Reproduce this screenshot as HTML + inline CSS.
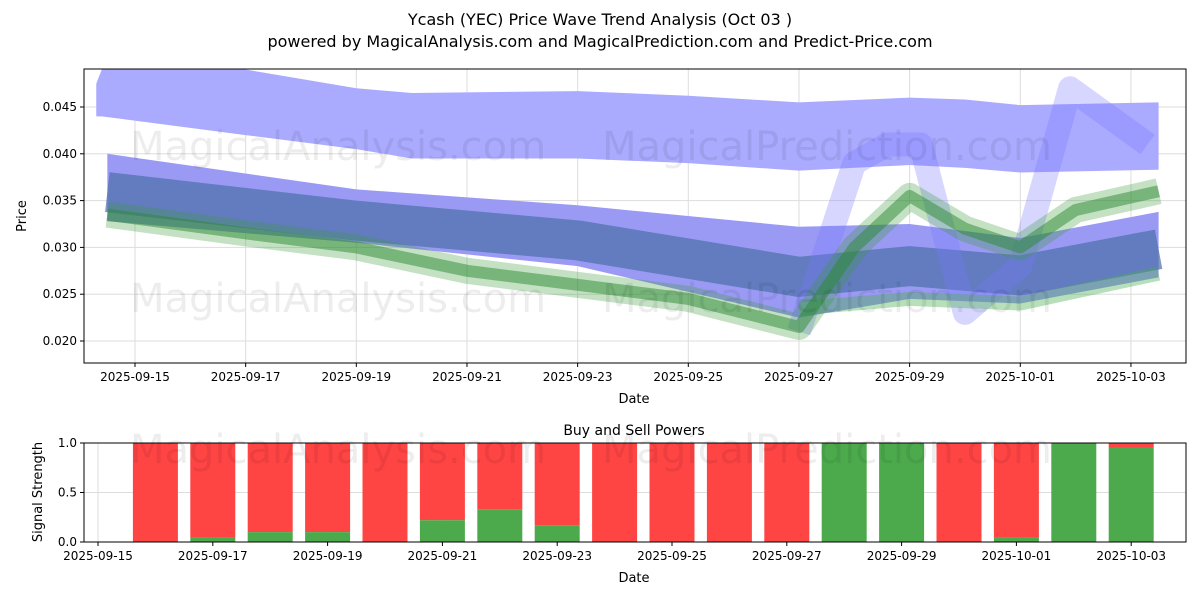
<!DOCTYPE html>
<html><head><meta charset="utf-8"><style>
body{margin:0;background:#fff;font-family:"Liberation Sans","DejaVu Sans",sans-serif}
svg text{font-family:"DejaVu Sans","Liberation Sans",sans-serif}
</style></head><body>
<svg id="c" width="1200" height="600" xmlns="http://www.w3.org/2000/svg">
<rect width="1200" height="600" fill="#fff"/>
<text x="600" y="25" font-size="16" text-anchor="middle">Ycash (YEC) Price Wave Trend Analysis (Oct 03 )</text>
<text x="600" y="47" font-size="16" text-anchor="middle">powered by MagicalAnalysis.com and MagicalPrediction.com and Predict-Price.com</text>
<g id="topg"></g><g id="botg"></g>
</svg>
<script>
// day offsets from 2025-09-15
const topTickDays=[0,2,4,6,8,10,12,14,16,18];
const topTickLabels=["2025-09-15","2025-09-17","2025-09-19","2025-09-21","2025-09-23","2025-09-25","2025-09-27","2025-09-29","2025-10-01","2025-10-03"];
const priceTicks=[0.020,0.025,0.030,0.035,0.040,0.045];
const bandDays=[-0.7,-0.6,2,4,5,8,10,12,14,15,16,18.5];
const bandUpper=[0.0475,0.049,0.049,0.047,0.0465,0.0467,0.0462,0.0455,0.046,0.0458,0.0452,0.0455];
const bandLower=[0.044,0.044,0.042,0.0405,0.0395,0.0395,0.039,0.0382,0.0388,0.0385,0.038,0.0383];
const midDays=[-0.5,4,8,12,14,16,18.5];
const midUpper=[0.040,0.0362,0.0345,0.0322,0.0325,0.031,0.0338];
const midLower=[0.0328,0.0305,0.028,0.0225,0.0245,0.024,0.0268];
const greenDays=[-0.5,2,4,6,8,10,12,13,14,15,16,17,18.5];
const greenCenter=[0.0335,0.0315,0.030,0.0275,0.026,0.0245,0.0215,0.030,0.0355,0.032,0.030,0.034,0.036];
const greenLowDays=[12,14,16,18.5];
const greenLow=[0.0235,0.0245,0.024,0.0272];
const spikeDays=[12,13,13.6,14.2,15,16,16.9,18.3];
const spikeVals=[0.021,0.039,0.041,0.041,0.023,0.028,0.047,0.041];
const barDays=[1,2,3,4,5,6,7,8,9,10,11,12,13,14,15,16,17,18];
const buyVals=[0,0.05,0.1,0.1,0,0.22,0.33,0.17,0,0,0,0,1,1,0,0.05,1,0.95];
const botTickDays=[0,2,4,6,8,10,12,14,16,18];
const strengthTicks=[0,0.5,1];

const NS="http://www.w3.org/2000/svg";
function mk(p,t,a){const e=document.createElementNS(NS,t);for(const k in a)e.setAttribute(k,a[k]);p.appendChild(e);return e;}
const topG=document.getElementById('topg'),botG=document.getElementById('botg');
const L=84,R=1186,T=69,B=363;
const xT=d=>135+d*55.33, yT=v=>341-(v-0.020)/0.005*46.8;
const cp=mk(topG,'clipPath',{id:'cp'});mk(cp,'rect',{x:L,y:T,width:R-L,height:B-T});
const g=mk(topG,'g',{'clip-path':'url(#cp)'});


priceTicks.forEach(v=>mk(g,'line',{x1:L,x2:R,y1:yT(v),y2:yT(v),stroke:'#ddd','stroke-width':1}));
topTickDays.forEach(d=>mk(g,'line',{x1:xT(d),x2:xT(d),y1:T,y2:B,stroke:'#ddd','stroke-width':1}));
function band(days,up,lo,fill,name){
 let pts=days.map((d,i)=>xT(d)+','+yT(up[i]));
 pts=pts.concat(days.map((d,i)=>xT(d)+','+yT(lo[i])).reverse());
 const p=mk(g,'polygon',{points:pts.join(' '),fill:fill});
 
 
}
function line(days,vals,w,col,op,name){
 const p=mk(g,'polyline',{points:days.map((d,i)=>xT(d)+','+yT(vals[i])).join(' '),fill:'none',stroke:col,'stroke-width':w,'stroke-opacity':op,'stroke-linejoin':'round'});
 
 
}
band(bandDays,bandUpper,bandLower,'#aaaaff','upper-blue-band');
band(midDays,midUpper,midLower,'#9a9af5','middle-blue-band');
line(midDays,midUpper.map((v,i)=>(v+midLower[i])/2-0.0005),40,'#4a6fa8',0.7,'slate-overlap');
line(spikeDays,spikeVals,24,'#7777ff',0.3,'blue-spike-wave');
line(greenLowDays,greenLow,14,'#4caf50',0.4,'lower-green-wave');
line(greenDays,greenCenter,26,'#3a9a3a',0.3,'green-wave-outer');
line(greenDays,greenCenter,12,'#2a8a30',0.5,'green-wave-core');
['MagicalAnalysis.com','MagicalPrediction.com'].forEach((t,i)=>{
 [160,312].forEach(y=>{const tx=mk(g,'text',{x:130+i*472,y:y,'font-size':40,fill:'#000','fill-opacity':0.07});tx.textContent=t;});
});
mk(topG,'rect',{x:L,y:T,width:R-L,height:B-T,fill:'none',stroke:'#000','stroke-width':1});
priceTicks.forEach(v=>{mk(topG,'line',{x1:L-4,x2:L,y1:yT(v),y2:yT(v),stroke:'#000'});
 const t=mk(topG,'text',{x:L-7,y:yT(v)+4,'font-size':12,'text-anchor':'end'});t.textContent=v.toFixed(3);});
topTickDays.forEach((d,i)=>{mk(topG,'line',{x1:xT(d),x2:xT(d),y1:B,y2:B+4,stroke:'#000'});
 const t=mk(topG,'text',{x:xT(d),y:B+18,'font-size':12,'text-anchor':'middle'});t.textContent=topTickLabels[i];});
let t=mk(topG,'text',{x:634,y:403,'font-size':13,'text-anchor':'middle'});t.textContent='Date';
t=mk(topG,'text',{x:26,y:216,'font-size':13,'text-anchor':'middle',transform:'rotate(-90 26 216)'});t.textContent='Price';

// bottom
const BT=443,BB=542;
const xB=d=>98+d*57.4, yB=v=>BB-v*(BB-BT);
t=mk(botG,'text',{x:634,y:435,'font-size':14,'text-anchor':'middle'});t.textContent='Buy and Sell Powers';
strengthTicks.forEach(v=>mk(botG,'line',{x1:L,x2:R,y1:yB(v),y2:yB(v),stroke:'#ddd'}));
botTickDays.forEach(d=>mk(botG,'line',{x1:xB(d),x2:xB(d),y1:BT,y2:BB,stroke:'#ddd'}));
barDays.forEach((d,i)=>{
 const x=xB(d)-22.5,b=buyVals[i];
 const s=mk(botG,'rect',{x:x,y:yB(1),width:45,height:yB(b)-yB(1),fill:'#ff4444'});
 
 
 const r=mk(botG,'rect',{x:x,y:yB(b),width:45,height:BB-yB(b),fill:'#4caa4c'});
 
 
});
const wm=mk(botG,'text',{x:130,y:463,'font-size':40,fill:'#000','fill-opacity':0.07});wm.textContent='MagicalAnalysis.com';
const wm2=mk(botG,'text',{x:602,y:463,'font-size':40,fill:'#000','fill-opacity':0.07});wm2.textContent='MagicalPrediction.com';
mk(botG,'rect',{x:L,y:BT,width:R-L,height:BB-BT,fill:'none',stroke:'#000'});
strengthTicks.forEach(v=>{mk(botG,'line',{x1:L-4,x2:L,y1:yB(v),y2:yB(v),stroke:'#000'});
 const tt=mk(botG,'text',{x:L-7,y:yB(v)+4,'font-size':12,'text-anchor':'end'});tt.textContent=v.toFixed(1);});
botTickDays.forEach((d,i)=>{mk(botG,'line',{x1:xB(d),x2:xB(d),y1:BB,y2:BB+4,stroke:'#000'});
 const tt=mk(botG,'text',{x:xB(d),y:BB+18,'font-size':12,'text-anchor':'middle'});tt.textContent=topTickLabels[i];});
t=mk(botG,'text',{x:634,y:582,'font-size':13,'text-anchor':'middle'});t.textContent='Date';
t=mk(botG,'text',{x:42,y:492,'font-size':13,'text-anchor':'middle',transform:'rotate(-90 42 492)'});t.textContent='Signal Strength';
</script>
</body></html>
